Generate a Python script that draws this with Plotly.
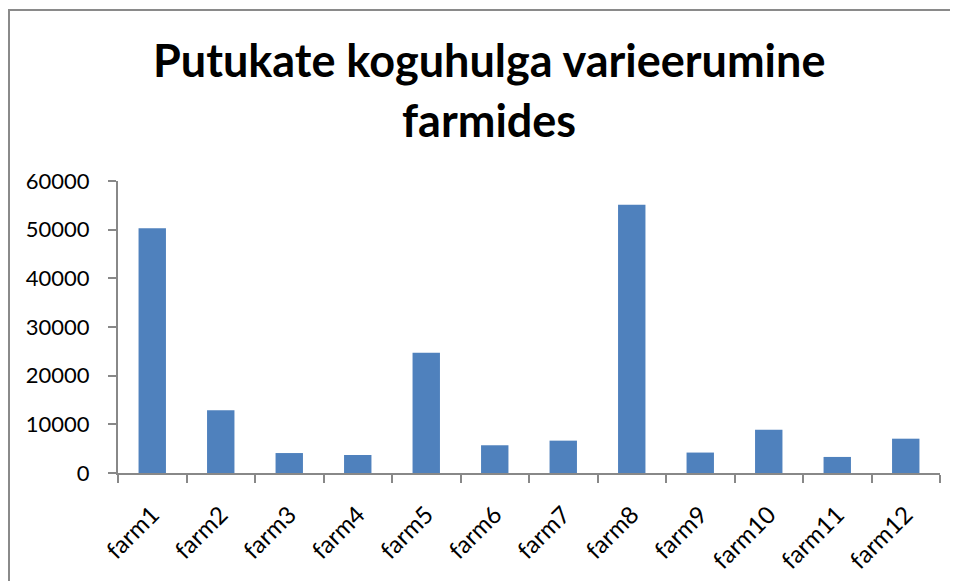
import plotly.graph_objects as go

categories = ["farm1", "farm2", "farm3", "farm4", "farm5", "farm6",
              "farm7", "farm8", "farm9", "farm10", "farm11", "farm12"]
values = [50300, 12900, 4100, 3700, 24700, 5700, 6650, 55100, 4200, 8900, 3300, 7050]
y_ticks = [0, 10000, 20000, 30000, 40000, 50000, 60000]
y_ticklabels = ["0", "10000", "20000", "30000", "40000", "50000", "60000"]
title_lines = ["Putukate koguhulga varieerumine", "farmides"]

# page body has an 8px margin; work in screen pixels and shift
OFF = 8
SW, SH = 958, 581
W, H = SW - OFF, SH - OFF
s_left, s_right, s_top, s_bottom = 118, 940, 181, 473
L = s_left - OFF
R = W - (s_right - OFF)
T = s_top - OFF
B = H - (s_bottom - OFF)
pw, ph = W - L - R, H - T - B

def px_x(sx):
    return (sx - OFF - L) / pw

def px_y(sy):
    return (H - B - (sy - OFF)) / ph

fig = go.Figure(go.Bar(
    x=categories, y=values,
    marker=dict(color="#4F81BD", line=dict(width=0)),
    width=0.4,
))

font = "Lato, 'Open Sans', sans-serif"
axis_col = "#888888"

fig.update_layout(
    width=W, height=H,
    margin=dict(l=L, r=R, t=T, b=B, autoexpand=False),
    paper_bgcolor="white", plot_bgcolor="white",
    showlegend=False,
    font=dict(family=font, color="black"),
    xaxis=dict(
        type="category", tickson="boundaries",
        ticks="outside", ticklen=8, tickcolor=axis_col, tickwidth=2,
        showline=True, linecolor=axis_col, linewidth=2,
        tickangle=-45, tickfont=dict(size=24, family=font),
        showgrid=False, range=[-0.5, 11.5],
        ticklabelstandoff=16,
    ),
    yaxis=dict(
        range=[0, 60000], tickvals=y_ticks, ticktext=y_ticklabels,
        ticks="outside", ticklen=8, tickcolor=axis_col, tickwidth=2,
        showline=True, linecolor=axis_col, linewidth=2,
        tickfont=dict(size=22, family=font),
        showgrid=False, zeroline=False,
        ticklabelstandoff=14,
    ),
    shapes=[dict(
        type="rect", xref="paper", yref="paper",
        x0=px_x(9), x1=px_x(SW + 30), y0=px_y(SH + 30), y1=px_y(10),
        line=dict(color="#8a8a8a", width=2), fillcolor="rgba(0,0,0,0)",
        layer="below",
    )],
    annotations=[
        dict(text="<b>%s</b>" % title_lines[0], xref="paper", yref="paper",
             x=px_x(489), y=px_y(60), xanchor="center", yanchor="middle",
             showarrow=False, font=dict(size=45, family=font, color="black")),
        dict(text="<b>%s</b>" % title_lines[1], xref="paper", yref="paper",
             x=px_x(489), y=px_y(120), xanchor="center", yanchor="middle",
             showarrow=False, font=dict(size=45, family=font, color="black")),
    ],
)

fig.write_html("out.html")
